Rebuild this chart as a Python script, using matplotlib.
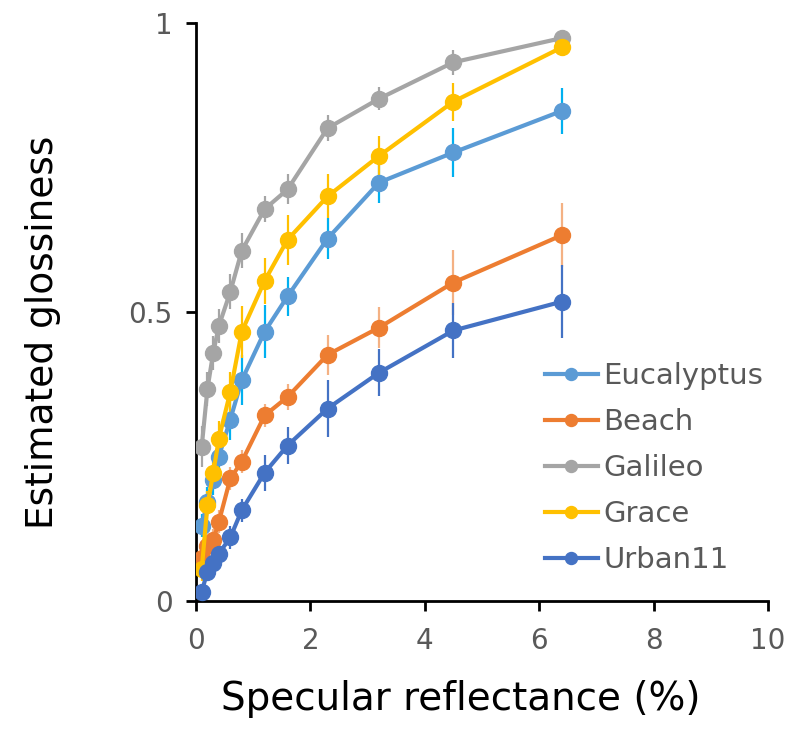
import numpy as np
import matplotlib
matplotlib.use('Agg')
import matplotlib.pyplot as plt

#%% data
reflectance = [0.1, 0.2, 0.3, 0.4, 0.6, 0.8, 1.2, 1.6, 2.3, 3.2, 4.5, 6.4]

eucalyptus = [0.130, 0.172, 0.209, 0.250, 0.314, 0.382, 0.466, 0.527, 0.627, 0.724, 0.776, 0.848]
beach      = [0.075, 0.095, 0.105, 0.137, 0.212, 0.241, 0.321, 0.353, 0.426, 0.473, 0.551, 0.633]
galileo    = [0.267, 0.367, 0.429, 0.476, 0.535, 0.606, 0.678, 0.712, 0.818, 0.869, 0.932, 0.974]
grace      = [0.055, 0.166, 0.221, 0.281, 0.362, 0.466, 0.554, 0.625, 0.700, 0.770, 0.864, 0.958]
urban11    = [0.016, 0.051, 0.065, 0.082, 0.110, 0.157, 0.222, 0.269, 0.333, 0.395, 0.468, 0.518]

eucalyptus_err = [0.020, 0.025, 0.025, 0.030, 0.035, 0.043, 0.046, 0.034, 0.035, 0.036, 0.042, 0.040]
beach_err      = [0.015, 0.020, 0.020, 0.020, 0.020, 0.020, 0.020, 0.023, 0.035, 0.036, 0.057, 0.055]
galileo_err    = [0.035, 0.030, 0.030, 0.030, 0.030, 0.030, 0.022, 0.026, 0.023, 0.020, 0.022, 0.010]
grace_err      = [0.020, 0.025, 0.025, 0.030, 0.035, 0.045, 0.040, 0.043, 0.038, 0.035, 0.033, 0.015]
urban11_err    = [0.010, 0.015, 0.015, 0.015, 0.020, 0.020, 0.031, 0.032, 0.049, 0.041, 0.048, 0.063]

names = ['Eucalyptus', 'Beach', 'Galileo', 'Grace', 'Urban11']
series = [eucalyptus, beach, galileo, grace, urban11]
errors = [eucalyptus_err, beach_err, galileo_err, grace_err, urban11_err]
line_colors = ['#5B9BD5', '#ED7D31', '#A5A5A5', '#FFC000', '#4472C4']
err_colors = ['#00B0F0', '#F4B183', '#A5A5A5', '#FFC000', '#4472C4']

#%% plot
fig = plt.figure(figsize=(7.86, 7.48), dpi=100)
ax = fig.add_axes([196/786, 1-601/748, (768-196)/786, (601-23)/748])

for i in range(len(names)):
    ax.errorbar(reflectance, series[i], yerr=errors[i], fmt='none',
                ecolor=err_colors[i], elinewidth=1.6, capsize=0, zorder=2+i*0.1)
    ax.plot(reflectance, series[i], '-o', color=line_colors[i], lw=3,
            markersize=11.5, label=names[i], zorder=3+i*0.1)

ax.set_xlim(0, 10)
ax.set_ylim(0, 1)
ax.set_xticks([0, 2, 4, 6, 8, 10])
ax.set_yticks([0, 0.5, 1])
ax.set_yticklabels(['0', '0.5', '1'])
for s in ['top', 'right']:
    ax.spines[s].set_visible(False)
for s in ['left', 'bottom']:
    ax.spines[s].set_linewidth(2)
    ax.spines[s].set_color('black')
ax.tick_params(axis='both', direction='out', length=7, width=2, colors='black',
               labelcolor='#595959', labelsize=20, pad=10)
ax.tick_params(axis='x', pad=12)

ax.set_xlabel('Specular reflectance (%)', fontsize=28)
ax.set_ylabel('Estimated glossiness', fontsize=27)
ax.xaxis.set_label_coords(0.463, -0.137)
ax.yaxis.set_label_coords(-0.236, 0.464)

leg = ax.legend(loc='upper left', bbox_to_anchor=(545/786, 1-362/748),
                bbox_transform=fig.transFigure, frameon=False, fontsize=21,
                handlelength=1.8, handletextpad=0.2, labelspacing=0.62,
                markerscale=0.75, borderpad=0, borderaxespad=0)
for t in leg.get_texts():
    t.set_color('#595959')

fig.savefig('out.png', dpi=100)
